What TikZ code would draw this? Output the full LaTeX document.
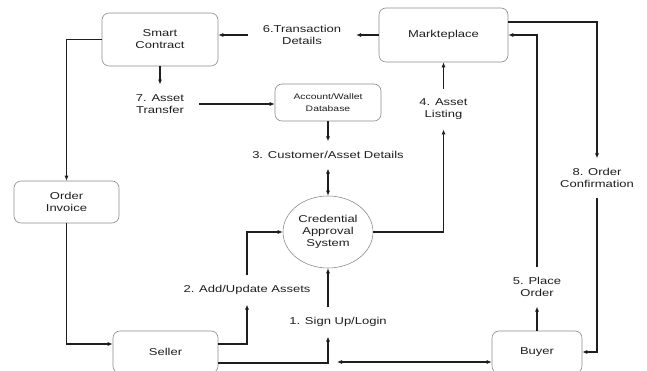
\documentclass[tikz,border=0pt]{standalone}
\usepackage{fontspec}
\setmainfont{Liberation Sans}[FakeStretch=1.3]
\usepackage{tikz}
\usetikzlibrary{arrows.meta}
\usetikzlibrary{shapes.geometric}

\definecolor{boxgray}{HTML}{8C8C8C}
\definecolor{inkgray}{HTML}{1E1E1E}

\tikzset{
  procbox/.style={draw=boxgray,line width=0.6bp,rounded corners=7bp,align=center,
    inner sep=0pt,font=\fontsize{10bp}{12bp}\selectfont,text=inkgray},
  flowlabel/.style={align=center,inner sep=0pt,outer xsep=15bp,outer ysep=10bp,
    font=\fontsize{10bp}{12bp}\selectfont,text=inkgray},
  flow/.style={inkgray,line width=1.3bp}
}

\begin{document}
\begin{tikzpicture}[>={Latex[length=5bp,width=4.2bp]},line join=miter,]
%%
\path[use as bounding box,clip] (0bp,0bp) rectangle (647bp,371bp);
\node (node_contract) at (160bp,331.5bp) [procbox,minimum width=116bp,minimum height=53bp] {Smart\\Contract};
  \node (node_market) at (443.5bp,336bp) [procbox,minimum width=129bp,minimum height=54bp] {Markteplace};
  \node (node_wallet) at (328bp,268.5bp) [procbox,minimum width=106bp,minimum height=37bp,font=\fontsize{8bp}{12bp}\selectfont] {Account/Wallet\\Database};
  \node (node_invoice) at (66.5bp,169bp) [procbox,minimum width=105bp,minimum height=42bp] {Order\\Invoice};
  \node (node_seller) at (165.5bp,19bp) [procbox,minimum width=105bp,minimum height=42bp] {Seller};
  \node (node_buyer) at (537bp,19bp) [procbox,minimum width=90bp,minimum height=42bp] {Buyer};
  \node (node_cas) at (328bp,139bp) [procbox,ellipse,minimum width=90bp,minimum height=72bp] {Credential\\Approval\\System};
  \node (label_6) at (302bp,336bp) [flowlabel] {6.Transaction\\Details};
  \node (label_7) at (160bp,267bp) [flowlabel] {7. Asset\\Transfer};
  \node (label_3) at (328bp,216bp) [flowlabel] {3. Customer/Asset Details};
  \node (label_4) at (443.5bp,262bp) [flowlabel] {4. Asset\\Listing};
  \node (label_8) at (597bp,193bp) [flowlabel] {8. Order\\Confirmation};
  \node (label_5) at (537bp,84bp) [flowlabel] {5. Place\\Order};
  \node (label_2) at (247bp,81bp) [flowlabel] {2. Add/Update Assets};
  \node (label_1) at (338bp,49bp) [flowlabel] {1. Sign Up/Login};
  \coordinate (meet) at (337bp,9bp);
  \draw [flow,->] (node_market.west) -- (label_6.east);
  \draw [flow,->] (label_6.west) -- (label_6.west -| node_contract.east);
  \draw [flow,->] (node_contract.south) -- (label_7.north);
  \draw [flow,->] (label_7.east) -- (label_7.east -| node_wallet.west);
  \draw [flow,->] (node_wallet.south) -- (label_3.north);
  \draw [flow,<->] (label_3.south) -- (node_cas.north);
  \draw [flow,->] (node_cas.east) -| (label_4.south);
  \draw [flow,->] (label_4.north) -- (node_market.south);
  \draw [flow,->] ([yshift=13bp]node_market.east) -| (label_8.north);
  \draw [flow,->] (label_8.south) |- (node_buyer.east);
  \draw [flow,->] (node_buyer.north) -- (label_5.south);
  \draw [flow,->] (label_5.north) |- (node_market.east);
  \draw [flow,->] ([yshift=8bp]node_seller.east) -| (label_2.south);
  \draw [flow,->] (label_2.north) |- (node_cas.west);
  \draw [flow,->] ([yshift=-11bp]node_seller.east) -| (label_1.south -| node_cas.south);
  \draw [flow,->] (label_1.north -| node_cas.south) -- (node_cas.south);
  \draw [flow,<->] (meet) -- (meet -| node_buyer.west);
  \draw [flow,->] (node_contract.west) -| (node_invoice.north);
  \draw [flow,->] (node_invoice.south) |- ([yshift=8bp]node_seller.west);
%
\end{tikzpicture}
\end{document}
